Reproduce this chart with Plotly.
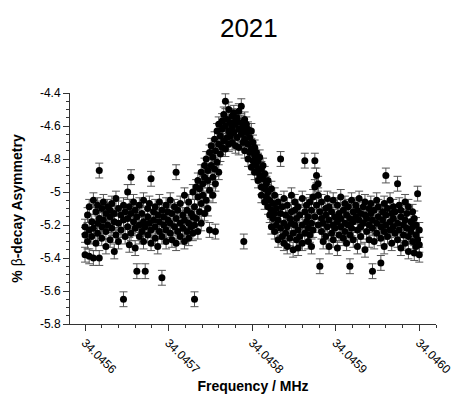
import plotly.graph_objects as go

# ---- data ----
base_freq_mhz = 34.0456
# scan-point offsets from the base frequency, in Hz
scan_offsets_hz = [
    0, 3, 5, 8, 10, 13, 15, 17, 20, 22, 25, 27, 30, 32, 35, 37, 40, 43, 46, 48,
    51, 53, 55, 58, 60, 62, 65, 68, 70, 72, 75, 77, 79, 82, 84, 87, 89, 92, 94, 97,
    99, 102, 104, 107, 109, 111, 114, 117, 119, 122, 124, 127, 129,
    131, 133, 135, 137, 139, 141, 143, 145, 147, 149, 151, 153, 155, 156, 158, 160, 162, 164,
    166, 168, 170, 172, 174, 176, 178, 180, 182, 184, 187, 189, 190, 191, 193, 195, 197, 199, 201,
    203, 205, 207, 209, 211, 213, 215, 217, 219, 221, 223, 225, 227, 229, 231, 234, 236, 238, 240,
    242, 245, 247, 249, 251, 253, 255, 257, 260, 263, 265, 267, 269, 271, 273, 275, 277, 279, 281,
    283, 285, 288, 290, 292, 295, 297, 299, 302, 304, 306, 309, 311, 313, 315, 317, 319, 321, 324,
    326, 328, 330, 333, 335, 337, 340, 342, 344, 346, 349, 351, 354, 356, 358, 360, 362, 365, 367,
    369, 371, 374, 376, 378, 381, 383, 385, 387, 390, 392, 394, 396, 398, 400,
]
asymmetry_groups = [
    [-5.21, -5.26, -5.38], [-5.14, -5.30], [-5.23, -5.09, -5.39], [-5.18, -5.27], [-5.05, -5.22, -5.40],
    [-5.12, -5.31], [-5.19, -5.25, -5.08], [-4.87, -5.16, -5.40], [-5.10, -5.28, -5.21], [-5.06, -5.17],
    [-5.24, -5.13, -5.33], [-5.09, -5.20], [-5.15, -5.29, -5.11], [-5.22, -5.07], [-5.36, -5.13, -5.18],
    [-5.04, -5.26], [-5.19, -5.10, -5.30], [-5.14, -5.23], [-5.65, -5.17, -5.08], [-5.27, -5.12],
    [-5.00, -5.21, -5.16], [-5.09, -5.32], [-4.91, -5.25, -5.13], [-5.18, -5.06], [-5.22, -5.34, -5.11],
    [-5.48, -5.15], [-5.08, -5.27, -5.20], [-5.13, -5.24], [-5.05, -5.18, -5.30], [-5.48, -5.21],
    [-5.10, -5.26, -5.15], [-5.19, -5.07], [-4.92, -5.23, -5.31], [-5.12, -5.17], [-5.28, -5.09, -5.21],
    [-5.14, -5.33], [-5.06, -5.24, -5.18], [-5.52, -5.11, -5.27], [-5.20, -5.15], [-5.08, -5.30, -5.23],
    [-5.17, -5.12], [-5.25, -5.05, -5.19], [-5.13, -5.29], [-5.21, -5.09], [-4.88, -5.16, -5.31],
    [-5.24, -5.11], [-5.07, -5.19, -5.27], [-5.14, -5.22], [-5.02, -5.30, -5.17], [-5.11, -5.24],
    [-5.19, -5.06, -5.28], [-5.13, -5.21], [-5.00, -5.25, -5.15],
    # rising flank and resonance
    [-5.65, -5.09, -5.20], [-4.97, -5.16], [-5.03, -5.24, -4.93], [-5.12, -4.98], [-4.88, -5.07, -5.19],
    [-4.95, -5.02], [-4.84, -5.13, -4.91], [-5.05, -4.80], [-4.93, -4.87, -5.10], [-5.23, -4.76, -4.99],
    [-4.84, -4.72], [-4.91, -4.79, -5.02], [-4.68, -4.86], [-5.24, -4.75, -4.95], [-4.63, -4.82],
    [-4.71, -4.59, -4.88], [-4.66, -4.77], [-4.57, -4.73, -4.62], [-4.69, -4.53], [-4.45, -4.60, -4.74],
    [-4.56, -4.67], [-4.63, -4.50, -4.71], [-4.58, -4.66], [-4.54, -4.70, -4.61], [-4.64, -4.52],
    [-4.59, -4.72, -4.57], [-4.67, -4.55], [-4.62, -4.51, -4.73], [-4.48, -4.65, -4.58], [-4.70, -4.61],
    [-5.30], [-4.56, -4.68, -4.75], [-4.64, -4.59], [-4.71, -4.62, -4.80], [-4.67, -4.76],
    [-4.74, -4.63, -4.85], [-4.70, -4.81],
    # falling flank
    [-4.78, -4.88, -4.73], [-4.84, -4.76], [-4.81, -4.93, -4.87], [-4.90, -4.79], [-4.86, -4.97, -5.02],
    [-4.92, -4.84], [-4.98, -5.06, -4.89], [-4.95, -5.03], [-5.09, -4.93, -5.00], [-5.05, -5.14],
    [-4.98, -5.11, -5.21], [-5.07, -5.16], [-5.13, -5.02, -5.24], [-5.10, -5.20], [-5.17, -5.06, -5.29],
    [-4.80, -5.13, -5.22], [-5.09, -5.27], [-5.19, -5.04, -5.31], [-5.14, -5.25], [-5.08, -5.21, -5.33],
    [-5.16, -5.28], [-5.02, -5.19, -5.12], [-5.25, -5.35], [-5.11, -5.20, -5.06], [-5.29, -5.16],
    [-5.09, -5.23, -5.34], [-5.14, -5.27], [-5.04, -5.20, -5.31], [-4.81, -5.12, -5.25], [-5.18, -5.08],
    [-5.30, -5.15, -5.22], [-5.06, -5.26], [-5.19, -5.11, -5.33], [-5.03, -5.23], [-4.81, -5.15, -4.97],
    [-4.90, -5.08], [-4.95, -5.20, -5.02], [-5.45, -5.12],
    # upper baseline
    [-5.06, -5.24, -5.16], [-5.19, -5.30], [-5.10, -5.14, -5.27], [-5.04, -5.21], [-5.17, -5.33, -5.09],
    [-5.12, -5.25], [-5.20, -5.05, -5.29], [-5.15, -5.22], [-5.08, -5.18, -5.34], [-5.13, -5.26],
    [-5.03, -5.21, -5.16], [-5.11, -5.28], [-5.19, -5.07, -5.24], [-5.14, -5.31], [-5.09, -5.20],
    [-5.45, -5.16, -5.26], [-5.05, -5.22], [-5.12, -5.29, -5.18], [-5.08, -5.15], [-5.23, -5.11, -5.33],
    [-5.17, -5.04], [-5.21, -5.27, -5.13], [-5.09, -5.19], [-5.14, -5.35, -5.06], [-5.24, -5.16],
    [-5.10, -5.20, -5.29], [-5.13, -5.07], [-5.48, -5.22, -5.17], [-5.11, -5.30], [-5.05, -5.19, -5.25],
    [-5.15, -5.09], [-5.43, -5.21, -5.28], [-5.12, -5.17], [-5.07, -5.24, -5.33], [-4.90, -5.14, -5.20],
    [-5.10, -5.27], [-5.18, -5.05, -5.23], [-5.13, -5.31], [-5.09, -5.21, -5.16], [-5.25, -5.12],
    [-4.95, -5.19, -5.29], [-5.08, -5.23], [-5.15, -5.34, -5.11], [-5.20, -5.26], [-5.06, -5.17, -5.31],
    [-5.13, -5.22], [-5.27, -5.09, -5.36], [-5.18, -5.24], [-5.12, -5.30, -5.21], [-5.16, -5.37],
    [-5.26, -5.20, -5.33], [-5.01, -5.29], [-5.23, -5.38, -5.32],
]
asym_error = 0.045

x_tick_vals = [34.0456, 34.0457, 34.0458, 34.0459, 34.0460]
x_tick_text = ["34.0456", "34.0457", "34.0458", "34.0459", "34.0460"]
y_tick_vals = [-4.4, -4.6, -4.8, -5.0, -5.2, -5.4, -5.6, -5.8]
y_tick_text = ["-4.4", "-4.6", "-4.8", "-5", "-5.2", "-5.4", "-5.6", "-5.8"]

assert len(scan_offsets_hz) == len(asymmetry_groups)

freqs, asym = [], []
for off, grp in zip(scan_offsets_hz, asymmetry_groups):
    for v in grp:
        freqs.append(base_freq_mhz + off * 1e-6)
        asym.append(v)

FONT = "Liberation Sans, Arial, sans-serif"

fig = go.Figure(go.Scatter(
    x=freqs, y=asym, mode="markers",
    marker=dict(color="black", size=7, line=dict(width=0)),
    error_y=dict(type="constant", value=asym_error, color="#555555", thickness=1, width=4),
    showlegend=False,
))

fig.update_layout(
    width=466, height=403,
    margin=dict(l=70, r=26, t=93, b=78),
    paper_bgcolor="white", plot_bgcolor="white",
    font=dict(family=FONT, color="black", size=12),
    title=dict(text="2021", x=0.534, xref="container", xanchor="center",
               y=0.93, yref="container", yanchor="middle",
               font=dict(size=26, family=FONT, color="black")),
)
fig.update_xaxes(
    range=[34.045582, 34.04602],
    tickmode="array", tickvals=x_tick_vals, ticktext=x_tick_text, tickangle=45,
    ticks="outside", ticklen=6, tickcolor="#333", showline=True, linecolor="#333", linewidth=1,
    showgrid=False, zeroline=False,
    minor=dict(tickmode="linear", tick0=34.0456, dtick=0.00002, ticks="outside", ticklen=3, tickcolor="#333"),
    title=dict(text="<b>Frequency / MHz</b>", font=dict(size=14), standoff=5),
    tickfont=dict(size=12),
)
fig.update_yaxes(
    range=[-5.8, -4.4],
    tickmode="array", tickvals=y_tick_vals, ticktext=y_tick_text,
    ticks="outside", ticklen=6, tickcolor="#333", showline=True, linecolor="#333", linewidth=1,
    showgrid=False, zeroline=False,
    minor=dict(tickmode="linear", tick0=-5.8, dtick=0.05, ticks="outside", ticklen=3, tickcolor="#333"),
    title=dict(text="<b>% </b>β<b>-decay Asymmetry</b>", font=dict(size=14), standoff=14),
    tickfont=dict(size=12),
)

fig.write_html("out.html")
